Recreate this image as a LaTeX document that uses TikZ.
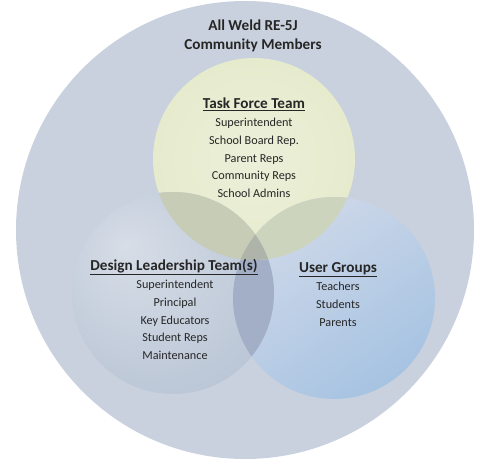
\documentclass[tikz,border=0pt]{standalone}
\usepackage{fontspec}
\setmainfont{Carlito}
\definecolor{commfill}{HTML}{C8D1DD}
\definecolor{commrim}{HTML}{E2E7EE}
\definecolor{taskfill}{HTML}{E4E9C9}
\definecolor{designfill}{HTML}{BCC7D7}
\definecolor{userlight}{HTML}{D0D9E9}
\definecolor{userdark}{HTML}{A6C3E2}
\definecolor{taskdesign}{HTML}{C6CCB5}
\definecolor{taskuser}{HTML}{CDD4BD}
\definecolor{designuser}{HTML}{A3AEC7}
\definecolor{allthree}{HTML}{AEB4AA}
\definecolor{labeltext}{HTML}{262626}
\pgfdeclareradialshading{commglow}{\pgfpoint{0bp}{0bp}}{color(0bp)=(commfill); color(42bp)=(commfill); color(48bp)=(commrim!60!commfill); color(50bp)=(commrim)}
\pgfdeclareradialshading{taskglow}{\pgfpoint{0bp}{0bp}}{color(0bp)=(taskfill!70!white); color(35bp)=(taskfill); color(50bp)=(taskfill!92!black)}
\pgfdeclareradialshading{designglow}{\pgfpoint{-12bp}{12bp}}{color(0bp)=(designfill!60!white); color(30bp)=(designfill); color(50bp)=(designfill!90!black)}
\tikzset{
  groupname/.style={font=\fontsize{15.2}{18.6}\selectfont\bfseries, text=labeltext, anchor=base},
  memberlist/.style={font=\fontsize{12.2}{17.6}\selectfont, text=labeltext, align=center, anchor=north},
}
\begin{document}
\begin{tikzpicture}[x=1pt,y=-1pt]
\useasboundingbox (0,0) rectangle (477,459);
\fill[white] (0,0) rectangle (477,459);
\coordinate (comm) at (245,230);
\coordinate (task) at (254,159);
\coordinate (design) at (173,293);
\coordinate (user) at (334,298);
% the circles
\shade[shading=commglow] (comm) circle (229);
\shade[shading=taskglow] (task) circle (101);
\shade[shading=designglow] (design) circle (101);
\shade[top color=userlight, bottom color=userdark, shading angle=35] (user) circle (101);
% overlaps
\begin{scope}
\clip (design) circle (101);
\fill[designuser] (user) circle (101);
\end{scope}
\begin{scope}
\clip (task) circle (101);
\fill[taskdesign] (design) circle (101);
\fill[taskuser] (user) circle (101);
\clip (design) circle (101);
\fill[allthree] (user) circle (101);
\end{scope}
% labels
\node[groupname] (commname) at (253,30.7) {All Weld RE-5J};
\node[groupname] (commname2) at (253,49.3) {Community Members};
\node[groupname] (taskname) at (254,108.3) {\underline{Task Force Team}};
\node[memberlist] (tasklist) at (254,114.8) {Superintendent\\School Board Rep.\\Parent Reps\\Community Reps\\School Admins};
\node[groupname] (designname) at (174,270.7) {\underline{Design Leadership Team(s)}};
\node[memberlist] (designlist) at (175,276.8) {Superintendent\\Principal\\Key Educators\\Student Reps\\Maintenance};
\node[groupname] (username) at (338,272.3) {\underline{User Groups}};
\node[memberlist] (userlist) at (338,278.8) {Teachers\\Students\\Parents};
\end{tikzpicture}
\end{document}
